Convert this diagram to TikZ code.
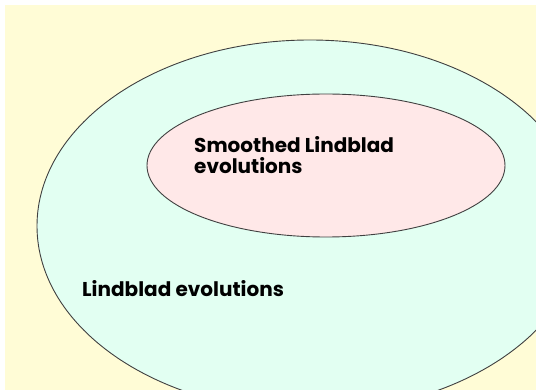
\documentclass[tikz,border=0pt]{standalone}
\usepackage{fontspec}
\setmainfont{Poppins}
\usepackage{tikz}
\definecolor{bgyellow}{RGB}{255,252,214}
\definecolor{lindcyan}{RGB}{226,255,242}
\definecolor{smoothpink}{RGB}{255,232,232}
\tikzset{setlabel/.style={font=\bfseries\fontsize{20}{21}\selectfont, align=left, anchor=base west, inner sep=0pt}}

\begin{document}
\begin{tikzpicture}[x=1pt,y=-1pt]
	\useasboundingbox (0,0) rectangle (536,390);
	\clip (5,5) rectangle (536,390);
	\fill [bgyellow] (5,5) rectangle (536,390);
	\draw [fill=lindcyan, draw=black!75, line width=0.9pt] (310,226) ellipse [x radius=273pt, y radius=186pt];
	\draw [fill=smoothpink, draw=black!75, line width=0.9pt] (326,165.5) ellipse [x radius=179pt, y radius=71.5pt];
	\node [setlabel] (smoothed) at (194,174) {Smoothed Lindblad\\evolutions};
	\node [setlabel] (lindblad) at (82,297) {Lindblad evolutions};
	\end{tikzpicture}
\end{document}
